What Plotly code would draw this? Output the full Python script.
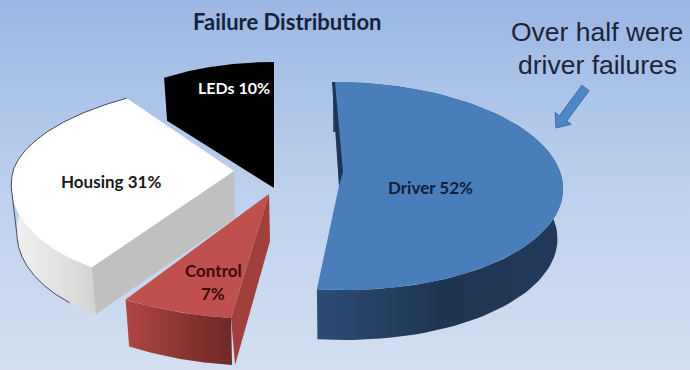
import numpy as np
import plotly.graph_objects as go

# ---- data ----
categories = ["Driver", "Control", "Housing", "LEDs"]
values = [52, 7, 31, 10]
title_text = "Failure Distribution"
callout_lines = ["Over half were", "driver failures"]

# ---- per-slice drawing geometry (pixels) ----
geom = {
    "Driver":  dict(cx=339, cy=186, rx=224, ry=104, ryf=104, sx=-6, depth=50),
    "Control": dict(cx=269, cy=194, rx=259, ry=125, ryf=125, sx=5.5, depth=47),
    "Housing": dict(cx=234, cy=171, rx=221, ry=90, ryf=114, sx=28, depth=47),
    "LEDs":    dict(cx=274, cy=145, rx=187, ry=83, ryf=83, sx=0, depth=43),
}
face = {"Driver": "#4a7ebb", "Control": "#bf504d", "Housing": "#ffffff", "LEDs": "#000000"}
wall_grad = {
    "Driver":  [[0, "#2c4c74"], [0.5, "#1f3552"], [1, "#22395a"]],
    "Control": [[0, "#b04744"], [0.6, "#86332f"], [1, "#6f2a28"]],
    "Housing": [[0, "#f2f2f2"], [0.5, "#dedede"], [1, "#c2c2c2"]],
}
cut_color = {"Control": "#a03f3c", "Housing": "#c0c0c0"}
SHRINK = 0.975


def pt(g, deg, bottom=False):
    t = np.radians(deg)
    k = SHRINK if bottom else 1.0
    x = g["cx"] + k * (g["rx"] * np.sin(t) + g["sx"] * np.cos(t))
    c = np.cos(t)
    y = g["cy"] - (g["ry"] if c >= 0 else g["ryf"]) * c
    return x, y + (g["depth"] if bottom else 0)


def arc(g, a0, a1, bottom=False, n=80):
    p = [pt(g, a, bottom=bottom) for a in np.linspace(a0, a1, n)]
    return [q[0] for q in p], [q[1] for q in p]


def poly(fig, xs, ys, color=None, grad=None, gtype="horizontal", line=None):
    kw = dict(x=list(xs) + [xs[0]], y=list(ys) + [ys[0]], mode="lines", fill="toself",
              hoverinfo="skip", showlegend=False,
              line=dict(width=line[1], color=line[0]) if line else dict(width=0))
    if grad:
        kw["fillgradient"] = dict(type=gtype, colorscale=grad)
    else:
        kw["fillcolor"] = color
    fig.add_trace(go.Scatter(**kw))


fig = go.Figure()

# background gradient
poly(fig, [0, 690, 690, 0], [0, 0, 370, 370],
     grad=[[0, "#d3dff1"], [0.5, "#bcd0ec"], [1, "#9ab7e3"]], gtype="vertical")

# slices, angles come from the values
bounds = np.concatenate([[0], np.cumsum(values)]) * 360.0 / sum(values)
span = {c: (bounds[i], bounds[i + 1]) for i, c in enumerate(categories)}

for name in ["Driver", "Housing", "LEDs", "Control"]:
    g = geom[name]
    a0, a1 = span[name]
    tx, ty = arc(g, a0, a1)
    bx, by = arc(g, a0, a1, bottom=True)
    ax, ay = g["cx"], g["cy"]
    if name == "LEDs":
        # all black, so the whole silhouette is one shape
        ex, ey = pt(g, a0)
        poly(fig, tx + [ax, ex + 3], ty + [ay + g["depth"], ey + g["depth"]], color=face[name])
        continue
    # outer curved wall
    poly(fig, tx + bx[::-1], ty + by[::-1], grad=wall_grad[name])
    # visible cut wall
    if name != "Driver":
        ex, ey = pt(g, a0)
        poly(fig, [ax, ex, ex + 4, ax + 1], [ay, ey, ey + g["depth"], ay + g["depth"]],
             color=cut_color[name])
    # top face
    poly(fig, [ax] + tx, [ay] + ty, color=face[name])
    if name == "Driver":
        # sliver of the far cut wall
        sxx, syy = pt(g, a0)
        poly(fig, [sxx - 1, ax, ax + 4, sxx + 2], [syy, ay, ay - 14, syy], color="#1f3552")
    if name == "Housing":
        wx, wy = arc(g, 222, 262, bottom=True)
        ox, oy = arc(g, 262, a1)
        fig.add_trace(go.Scatter(x=wx + ox, y=wy + oy, mode="lines", hoverinfo="skip",
                                 showlegend=False, line=dict(color="#3d4a5c", width=1)))

# callout arrow
tail = np.array([585.5, 88.0])
tip = np.array([556.0, 128.0])
d = (tip - tail) / np.linalg.norm(tip - tail)
n = np.array([-d[1], d[0]])
neck = tip - d * 12
arrow = [tail + n * 4.5, neck + n * 4.5, neck + n * 10, tip, neck - n * 10, neck - n * 4.5, tail - n * 4.5]
poly(fig, [p[0] for p in arrow], [p[1] for p in arrow], color="#4f86c6", line=("#3f6fa8", 1))

CAL = "Lato, Carlito, sans-serif"
labels = [
    (f"<b>{title_text}</b>", 287, 21, 22, "#14233a", CAL),
    (f"<b>{categories[0]} {values[0]}%</b>", 430, 187, 17, "#0e1f3c", CAL),
    (f"<b>{categories[2]} {values[2]}%</b>", 111, 181, 17, "#1a1a1a", CAL),
    (f"<b>{categories[3]} {values[3]}%</b>", 234, 87, 16, "#ffffff", CAL),
    (f"<b>{categories[1]}</b>", 213, 270, 17, "#3d0a0a", CAL),
    (f"<b>{values[1]}%</b>", 213, 293, 17, "#3d0a0a", CAL),
    (callout_lines[0], 597, 32, 26.5, "#1a2638", "Liberation Sans, Arial, sans-serif"),
    (callout_lines[1], 597, 65, 26.5, "#1a2638", "Liberation Sans, Arial, sans-serif"),
]
for txt, x, y, size, col, fam in labels:
    fig.add_annotation(x=x, y=y, text=txt, showarrow=False, xanchor="center", yanchor="middle",
                       font=dict(size=size, color=col, family=fam))

fig.update_layout(width=690, height=370, margin=dict(l=0, r=0, t=0, b=0),
                  paper_bgcolor="#bcd0ec", plot_bgcolor="rgba(0,0,0,0)",
                  xaxis=dict(range=[0, 690], visible=False, fixedrange=True),
                  yaxis=dict(range=[370, 0], visible=False, fixedrange=True),
                  showlegend=False)
fig.write_html("out.html", config={"displayModeBar": False},
               post_script="document.body.style.margin='0';")
